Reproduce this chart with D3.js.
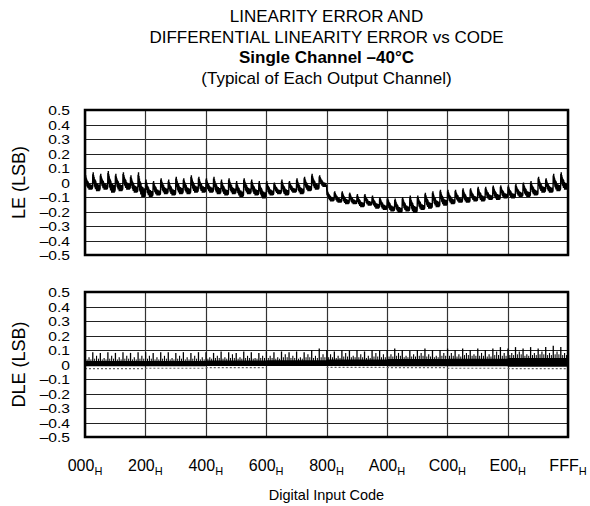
<!DOCTYPE html>
<html>
<head>
<meta charset="UTF-8">
<title>LE and DLE vs Code</title>
<script src="https://cdn.jsdelivr.net/npm/d3@7"></script>
<style>
  body { margin: 0; background: #fff; }
  text { font-family: "Liberation Sans", Arial, sans-serif; fill: #000; }
</style>
</head>
<body>
<script>
// x tick codes and labels
var codeTicks = [0, 512, 1024, 1536, 2048, 2560, 3072, 3584, 4095];
var codeLabels = ["000", "200", "400", "600", "800", "A00", "C00", "E00", "FFF"];
var yTicks = [0.5, 0.4, 0.3, 0.2, 0.1, 0, -0.1, -0.2, -0.3, -0.4, -0.5];

// LE: one peak and one trough per 64-code tooth
var lePeaks = [
  0.05, 0.07, 0.06, 0.08, 0.06, 0.07, 0.05, 0.07,
  0.02, 0.01, 0.03, 0.02, 0.04, 0.03, 0.05, 0.04,
  0.03, 0.04, 0.02, 0.03, 0.01, 0.03, 0.02, 0.01,
  0.01, 0.00, 0.02, 0.01, 0.03, 0.04, 0.06, 0.05,
  -0.05, -0.06, -0.06, -0.07, -0.08, -0.08, -0.09, -0.10,
  -0.10, -0.11, -0.10, -0.09, -0.09, -0.07, -0.06, -0.05,
  -0.05, -0.05, -0.04, -0.04, -0.03, -0.03, -0.02, -0.02,
  -0.02, -0.01, 0.00, 0.01, 0.04, 0.03, 0.06, 0.07
];
var leTroughs = [
  -0.05, -0.06, -0.05, -0.07, -0.06, -0.05, -0.07, -0.10,
  -0.10, -0.09, -0.08, -0.09, -0.08, -0.08, -0.07, -0.07,
  -0.07, -0.08, -0.09, -0.08, -0.10, -0.08, -0.09, -0.11,
  -0.09, -0.08, -0.09, -0.07, -0.08, -0.06, -0.05, -0.03,
  -0.13, -0.14, -0.15, -0.15, -0.17, -0.16, -0.18, -0.19,
  -0.20, -0.21, -0.20, -0.21, -0.19, -0.18, -0.17, -0.16,
  -0.15, -0.14, -0.14, -0.13, -0.13, -0.12, -0.12, -0.11,
  -0.11, -0.10, -0.10, -0.09, -0.07, -0.07, -0.06, -0.05
];
// shape of one tooth: [fraction of tooth, level between trough(0) and peak(1)]
var toothShape = [
  [0, 0.15], [0.03, 0.9], [0.06, 0.55], [0.09, 1], [0.12, 0.45], [0.15, 0.85],
  [0.18, 0.4], [0.21, 0.75], [0.25, 0.25], [0.28, 0.65], [0.32, 0.2], [0.35, 0.6],
  [0.39, 0.1], [0.42, 0.55], [0.46, 0.1], [0.5, 0.45], [0.54, 0.0], [0.58, 0.4],
  [0.62, 0.1], [0.66, 0.4], [0.7, 0], [0.74, 0.3], [0.78, 0.05], [0.82, 0.35],
  [0.86, 0], [0.9, 0.3], [0.94, 0.05], [1, 0.15]
];

// DLE: tall spike at every 64 codes, smaller ones in between
var dleMajor = [
  0.08, 0.085, 0.08, 0.085, 0.08, 0.085, 0.08, 0.085,
  0.085, 0.08, 0.085, 0.085, 0.08, 0.085, 0.08, 0.085,
  0.085, 0.08, 0.09, 0.085, 0.08, 0.09, 0.085, 0.08,
  0.09, 0.085, 0.09, 0.085, 0.09, 0.085, 0.10, 0.11,
  0.10, 0.09, 0.10, 0.095, 0.10, 0.09, 0.10, 0.095,
  0.10, 0.11, 0.10, 0.095, 0.10, 0.11, 0.10, 0.10,
  0.11, 0.10, 0.11, 0.10, 0.11, 0.10, 0.11, 0.12,
  0.11, 0.12, 0.11, 0.12, 0.11, 0.12, 0.13, 0.12
];
var dleMinor = [
  0.05, 0.06, 0.045, 0.06, 0.05, 0.06, 0.05, 0.06,
  0.06, 0.05, 0.06, 0.045, 0.06, 0.05, 0.06, 0.05,
  0.05, 0.06, 0.05, 0.07, 0.05, 0.06, 0.045, 0.06,
  0.06, 0.05, 0.07, 0.06, 0.05, 0.07, 0.06, 0.07,
  0.07, 0.06, 0.08, 0.06, 0.07, 0.06, 0.08, 0.07,
  0.07, 0.08, 0.06, 0.07, 0.08, 0.07, 0.06, 0.08,
  0.08, 0.07, 0.08, 0.07, 0.08, 0.07, 0.09, 0.08,
  0.08, 0.09, 0.07, 0.08, 0.09, 0.08, 0.09, 0.08
];
var dleSmall = [
  0.035, 0.04, 0.035, 0.04, 0.035, 0.04, 0.035, 0.04,
  0.04, 0.035, 0.04, 0.035, 0.04, 0.035, 0.04, 0.035,
  0.04, 0.045, 0.04, 0.045, 0.04, 0.045, 0.04, 0.045,
  0.045, 0.04, 0.05, 0.045, 0.04, 0.05, 0.045, 0.05,
  0.05, 0.045, 0.055, 0.05, 0.05, 0.045, 0.055, 0.05,
  0.055, 0.06, 0.05, 0.055, 0.06, 0.055, 0.05, 0.06,
  0.06, 0.055, 0.065, 0.06, 0.06, 0.055, 0.065, 0.06,
  0.065, 0.07, 0.06, 0.065, 0.07, 0.065, 0.07, 0.065
];
// dense band round zero, one level per 200H block
var dleBandHi = [0.025, 0.025, 0.028, 0.03, 0.035, 0.038, 0.04, 0.045];
var dleBandLo = [-0.012, -0.012, -0.01, -0.01, -0.01, -0.012, -0.012, -0.015];
var dleDots = [-0.028, -0.026, -0.022, 0, -0.02, -0.022, -0.026, -0.028];

var width = 590, height = 506;
var left = 85, right = 568;

var svg = d3.select("body").append("svg")
  .attr("width", width)
  .attr("height", height);

var x = d3.scaleLinear().domain([0, 4095]).range([left, right]);

// title
var titles = [
  ["LINEARITY ERROR AND", 16, "normal"],
  ["DIFFERENTIAL LINEARITY ERROR vs CODE", 37, "normal"],
  ["Single Channel \u201340\u00b0C", 57, "bold"],
  ["(Typical of Each Output Channel)", 78, "normal"]
];
svg.selectAll("text.title").data(titles).enter().append("text")
  .attr("class", "title")
  .attr("x", (left + right) / 2)
  .attr("y", function(d) { return d[1]; })
  .attr("dy", "0.35em")
  .attr("text-anchor", "middle")
  .style("font-size", "17px")
  .style("font-weight", function(d) { return d[2]; })
  .text(function(d) { return d[0]; });

function fmt(v) {
  if (Math.abs(v) < 1e-9) return "0";
  return (v < 0 ? "\u2013" : "") + Math.abs(v).toFixed(1);
}

function panel(top, bottom, label) {
  var y = d3.scaleLinear().domain([-0.5, 0.5]).range([bottom, top]);
  var g = svg.append("g");

  // grid
  g.append("g").selectAll("line.h").data(yTicks).enter().append("line")
    .attr("x1", left).attr("x2", right)
    .attr("y1", function(d) { return Math.round(y(d)) + 0.5; })
    .attr("y2", function(d) { return Math.round(y(d)) + 0.5; })
    .attr("stroke", "#222").attr("stroke-width", 1);
  g.append("g").selectAll("line.v").data(codeTicks).enter().append("line")
    .attr("x1", function(d) { return Math.round(x(d)) + 0.5; })
    .attr("x2", function(d) { return Math.round(x(d)) + 0.5; })
    .attr("y1", top).attr("y2", bottom)
    .attr("stroke", "#333").attr("stroke-width", 1.2);

  // y tick labels, packed tight as in the original
  var axis = d3.axisLeft(y).tickValues(yTicks).tickSize(0).tickPadding(0).tickFormat(fmt);
  var ax = svg.append("g").attr("transform", "translate(" + (left - 15) + ",0)").call(axis);
  ax.select(".domain").remove();
  ax.selectAll("text")
    .style("font-size", "13px")
    .style("font-family", '"Liberation Sans", Arial, sans-serif')
    .attr("dy", "0.36em")
    .attr("transform", "scale(1.2,1)")
    .attr("fill", "#000");

  svg.append("text")
    .attr("transform", "translate(19," + (top + bottom) / 2 + ") rotate(-90)")
    .attr("text-anchor", "middle")
    .attr("dy", "0.35em")
    .style("font-size", "18px")
    .text(label);

  return { g: g, y: y, top: top, bottom: bottom };
}

var le = panel(110, 255, "LE (LSB)");
var dle = panel(292, 437, "DLE (LSB)");

// LE trace
var lePts = [];
lePeaks.forEach(function(p, i) {
  var t = leTroughs[i];
  toothShape.forEach(function(s, k) {
    if (i > 0 && k === 0) return;
    lePts.push([Math.min(4095, i * 64 + s[0] * 64), t + s[1] * (p - t)]);
  });
});
le.g.append("path")
  .datum(lePts)
  .attr("fill", "none")
  .attr("stroke", "#000")
  .attr("stroke-width", 1.4)
  .attr("stroke-linejoin", "bevel")
  .attr("d", d3.line().x(function(d) { return x(d[0]); }).y(function(d) { return le.y(d[1]); }));

// faint negative dots
var blocks = d3.range(8);
dle.g.selectAll("line.dot").data(blocks.filter(function(d) { return dleDots[d] < 0; })).enter().append("line")
  .attr("x1", function(d) { return x(d * 512); })
  .attr("x2", function(d) { return x(Math.min(4095, d * 512 + 512)); })
  .attr("y1", function(d) { return dle.y(dleDots[d]); })
  .attr("y2", function(d) { return dle.y(dleDots[d]); })
  .attr("stroke", "#666").attr("stroke-width", 1.2)
  .attr("stroke-dasharray", "2,2");

// DLE band
dle.g.append("path")
  .datum(blocks.concat([7.998]))
  .attr("fill", "#000")
  .attr("d", d3.area()
    .curve(d3.curveStepAfter)
    .x(function(d) { return x(d * 512); })
    .y0(function(d) { return dle.y(dleBandLo[Math.floor(d)]); })
    .y1(function(d) { return dle.y(dleBandHi[Math.floor(d)]); }));

// spikes
function spikes(vals, offset, w) {
  dle.g.append("g").selectAll("line").data(vals).enter().append("line")
    .attr("x1", function(d, i) { return x(Math.min(4095, i * 64 + offset)); })
    .attr("x2", function(d, i) { return x(Math.min(4095, i * 64 + offset)); })
    .attr("y1", function(d, i) { return dle.y(dleBandHi[Math.floor(i / 8)] - 0.01); })
    .attr("y2", function(d) { return dle.y(d); })
    .attr("stroke", "#000").attr("stroke-width", w);
}
spikes(dleMajor, 2, 1.3);
spikes(dleMinor, 34, 1.1);
spikes(dleSmall, 18, 1);
spikes(dleSmall, 50, 1);

// frames
[le, dle].forEach(function(p) {
  svg.append("rect")
    .attr("x", left).attr("y", p.top)
    .attr("width", right - left).attr("height", p.bottom - p.top)
    .attr("fill", "none").attr("stroke", "#000").attr("stroke-width", 2.5);
});

// x labels
var xl = svg.append("g").selectAll("text").data(codeTicks).enter().append("text")
  .attr("x", function(d) { return x(d); })
  .attr("y", 465)
  .attr("dy", "0.35em")
  .attr("text-anchor", "middle")
  .style("font-size", "16px");
xl.append("tspan").text(function(d, i) { return codeLabels[i]; });
xl.append("tspan").attr("dy", "4").style("font-size", "11px").text("H");

svg.append("text")
  .attr("x", (left + right) / 2)
  .attr("y", 495)
  .attr("dy", "0.35em")
  .attr("text-anchor", "middle")
  .style("font-size", "14.5px")
  .text("Digital Input Code");
</script>
</body>
</html>
